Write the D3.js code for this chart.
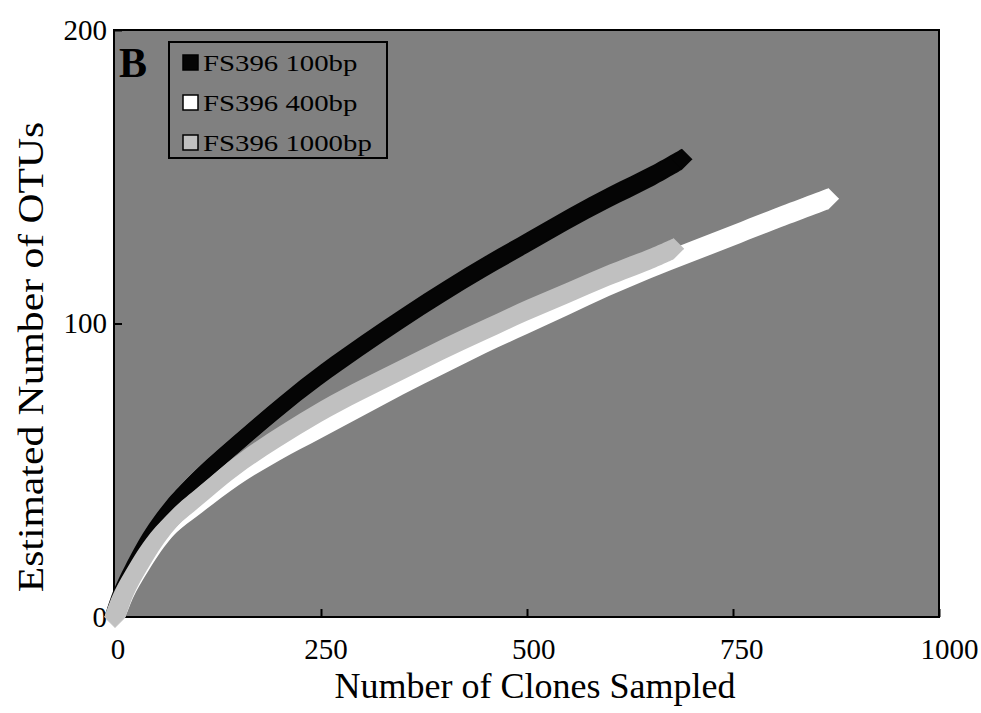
<!DOCTYPE html>
<html>
<head>
<meta charset="utf-8">
<script src="https://cdn.jsdelivr.net/npm/d3@7/dist/d3.min.js"></script>
<style>
  html, body { margin: 0; padding: 0; background: #ffffff; }
  svg { display: block; }
  text { font-family: "Liberation Serif", "Times New Roman", serif; fill: #000; }
</style>
</head>
<body>
<script>
// Rarefaction curves: estimated OTUs vs. number of clones sampled
const seriesNames = ["FS396 100bp", "FS396 400bp", "FS396 1000bp"];
const seriesColors = ["#050505", "#ffffff", "#c0c0c0"];

const clones100 = [0, 10, 25, 50, 75, 100, 150, 200, 250, 300, 350, 400, 450, 500, 550, 600, 650, 688];
const otus100   = [0, 8.5, 17.5, 30, 39.5, 47, 59.5, 71.5, 82.5, 92.5, 102, 111, 119.5, 127.5, 135.5, 143, 150, 156];

const clones400 = [0, 10, 25, 50, 75, 100, 150, 200, 250, 300, 350, 400, 450, 500, 550, 600, 650, 700, 750, 800, 866];
const otus400   = [0, 7, 14.5, 25, 32.5, 38, 48.5, 57, 64.5, 72, 79.5, 86.5, 93.5, 100, 106.5, 113, 119, 124.5, 130, 135.5, 142.5];

const clones1000 = [0, 10, 25, 50, 75, 100, 150, 200, 250, 300, 350, 400, 450, 500, 550, 600, 650, 678];
const otus1000   = [0, 7.6, 15.5, 26.5, 34.5, 40.5, 52, 61.5, 70, 77.5, 84.5, 91.5, 98, 104.5, 110.5, 116.5, 122, 125.5];

const xTicks = [0, 250, 500, 750, 1000];
const yTicks = [0, 100, 200];

const panelLetter = "B";
const xTitle = "Number of Clones Sampled";
const yTitle = "Estimated Number of OTUs";

// ---- layout ----
const W = 981, H = 713;
const plot = { left: 114, right: 939, top: 30, bottom: 617 };
const markR = 10.5; // half-diagonal of the diamond marker

const x = d3.scaleLinear().domain([0, 1000]).range([plot.left + 1, plot.right]);
const y = d3.scaleLinear().domain([0, 200]).range([plot.bottom, plot.top]);
// tick labels sit slightly right of their ticks
const xLabel = d3.scaleLinear().domain([0, 1000]).range([117.5, 949]);

const svg = d3.select("body").append("svg")
  .attr("width", W).attr("height", H);

// plot background
svg.append("rect")
  .attr("x", plot.left).attr("y", plot.top)
  .attr("width", plot.right - plot.left).attr("height", plot.bottom - plot.top)
  .attr("fill", "#808080");

// axes (inward ticks)
const gx = svg.append("g")
  .attr("transform", `translate(0,${plot.bottom})`)
  .call(d3.axisBottom(x).tickValues(xTicks).tickFormat(d3.format("d"))
    .tickSizeInner(-8).tickSizeOuter(0).tickPadding(21));
gx.select(".domain").remove();
gx.selectAll(".tick line").attr("stroke", "#000").attr("stroke-width", 2);
gx.selectAll(".tick text")
  .attr("font-size", 29)
  .attr("font-family", "Liberation Serif, Times New Roman, serif")
  .attr("dx", d => xLabel(d) - x(d));

const gy = svg.append("g")
  .attr("transform", `translate(${plot.left},0)`)
  .call(d3.axisLeft(y).tickValues(yTicks).tickFormat(d3.format("d"))
    .tickSizeInner(-8).tickSizeOuter(0).tickPadding(7));
gy.select(".domain").remove();
gy.selectAll(".tick line").attr("stroke", "#000").attr("stroke-width", 2);
gy.selectAll(".tick text")
  .attr("font-size", 29)
  .attr("font-family", "Liberation Serif, Times New Roman, serif");

// frame
svg.append("rect")
  .attr("x", plot.left).attr("y", plot.top)
  .attr("width", plot.right - plot.left).attr("height", plot.bottom - plot.top)
  .attr("fill", "none").attr("stroke", "#000").attr("stroke-width", 2);

// ---- curves: a diamond marker swept along each series ----
const series = [
  { name: seriesNames[0], color: seriesColors[0], pts: clones100.map((c, i) => ({ c, o: otus100[i] })) },
  { name: seriesNames[1], color: seriesColors[1], pts: clones400.map((c, i) => ({ c, o: otus400[i] })) },
  { name: seriesNames[2], color: seriesColors[2], pts: clones1000.map((c, i) => ({ c, o: otus1000[i] })) }
];

const curve = d3.curveCatmullRom.alpha(0.5);
const vBand = d3.area().curve(curve)
  .x(d => x(d.c)).y0(d => y(d.o) + markR).y1(d => y(d.o) - markR);
const hBand = d3.area().curve(curve)
  .y(d => y(d.o)).x0(d => x(d.c) - markR).x1(d => x(d.c) + markR);
const centre = d3.line().curve(curve).x(d => x(d.c)).y(d => y(d.o));
const diamond = (cx, cy, r) =>
  `M${cx},${cy - r}L${cx + r},${cy}L${cx},${cy + r}L${cx - r},${cy}Z`;

const gCurves = svg.append("g");
series.forEach(s => {
  const g = gCurves.append("g").attr("fill", s.color);
  g.append("path").attr("d", vBand(s.pts));
  g.append("path").attr("d", hBand(s.pts));
  // inscribed-circle sweep fills the turn from steep to shallow
  g.append("path").attr("d", centre(s.pts))
    .attr("fill", "none").attr("stroke", s.color)
    .attr("stroke-width", markR * Math.SQRT2).attr("stroke-linejoin", "round");
  const ends = [s.pts[0], s.pts[s.pts.length - 1]];
  g.selectAll("path.end").data(ends).join("path")
    .attr("class", "end")
    .attr("d", d => diamond(x(d.c), y(d.o), markR));
});

// panel letter
svg.append("text")
  .attr("x", 119).attr("y", 77)
  .attr("font-size", 42).attr("font-weight", "bold")
  .text(panelLetter);

// legend
const legend = svg.append("g");
legend.append("rect")
  .attr("x", 169).attr("y", 42).attr("width", 218).attr("height", 116)
  .attr("fill", "none").attr("stroke", "#000").attr("stroke-width", 2);
const rows = legend.selectAll("g.row").data(series).join("g")
  .attr("class", "row")
  .attr("transform", (d, i) => `translate(183,${55 + i * 40})`);
rows.append("rect")
  .attr("width", 15).attr("height", 15)
  .attr("fill", d => d.color).attr("stroke", "#000").attr("stroke-width", 1.5);
rows.append("text")
  .attr("transform", "translate(20,15.5) scale(1.2,1)")
  .attr("font-size", 24)
  .text(d => d.name);

// axis titles
svg.append("text")
  .attr("transform", "translate(535,698)")
  .attr("text-anchor", "middle")
  .attr("font-size", 36)
  .text(xTitle);
svg.append("text")
  .attr("transform", "translate(43,357) rotate(-90) scale(1.19,1)")
  .attr("text-anchor", "middle")
  .attr("font-size", 35)
  .text(yTitle);
</script>
</body>
</html>
